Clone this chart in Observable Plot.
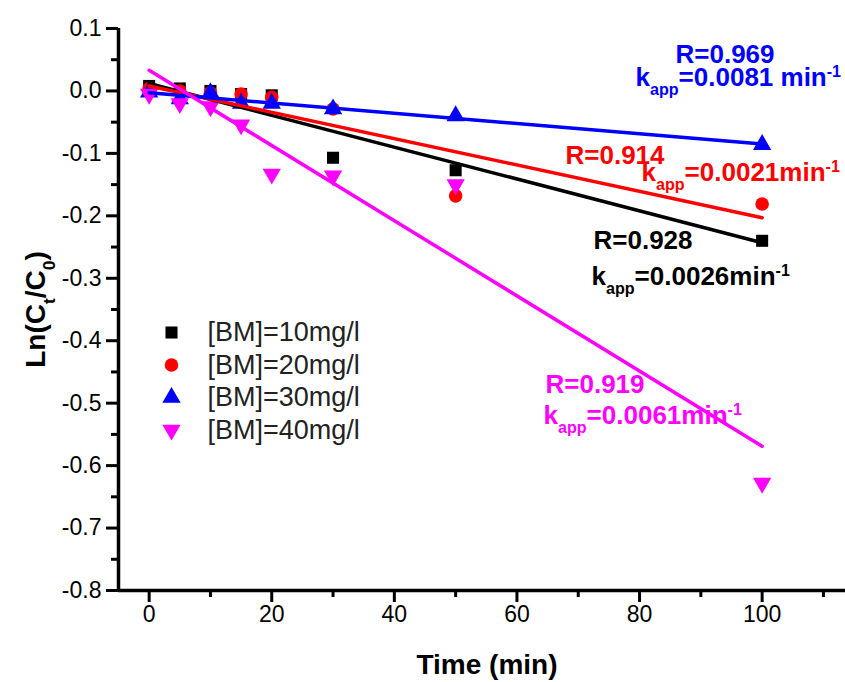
<!DOCTYPE html>
<html><head><meta charset="utf-8">
<script src="https://cdn.jsdelivr.net/npm/d3@7"></script>
<script src="https://cdn.jsdelivr.net/npm/@observablehq/plot@0.6"></script>
<style>
body{margin:0;background:#fff;}
#chart svg{display:block;}
</style></head>
<body><div id="chart"></div>
<script>
// ---- data ----
const time = [0, 5, 10, 15, 20, 30, 50, 100];
const seriesNames = ["[BM]=10mg/l", "[BM]=20mg/l", "[BM]=30mg/l", "[BM]=40mg/l"];
const bm10 = [0.008, 0.004, 0.000, -0.005, -0.007, -0.107, -0.127, -0.240];
const bm20 = [0.004, 0.000, -0.003, -0.005, -0.010, -0.029, -0.168, -0.181];
const bm30 = [-0.002, -0.013, -0.003, -0.020, -0.020, -0.029, -0.040, -0.086];
const bm40 = [-0.005, -0.020, -0.025, -0.054, -0.133, -0.136, -0.150, -0.628];
const fitTime = [0, 100];
const fitStart = [0.012, 0.008, -0.003, 0.033];
const fitEnd = [-0.243, -0.203, -0.085, -0.569];
const rLabels = ["R=0.928", "R=0.914", "R=0.969", "R=0.919"];
const kLabels = ["k_{app}=0.0026min^{-1}", "k_{app}=0.0021min^{-1}", "k_{app}=0.0081 min^{-1}", "k_{app}=0.0061min^{-1}"];
const xTicks = [0, 20, 40, 60, 80, 100];
const xMinor = [10, 30, 50, 70, 90, 110];
const yTicks = [0.1, 0, -0.1, -0.2, -0.3, -0.4, -0.5, -0.6, -0.7, -0.8];
const yMinor = [0.05, -0.05, -0.15, -0.25, -0.35, -0.45, -0.55, -0.65, -0.75];
const xLabel = "Time (min)";
const yLabel = "Ln(C_{t}/C_{0})";

// ---- styling / layout ----
const colors = ["#000000", "#ff0000", "#0000ff", "#ff00ff"];
const W = 845, H = 682, mL = 118, mR = 0, mT = 28, mB = 92;
const xDom = [-5, 113.6], yDom = [-0.8, 0.1];
const pxX = p => xDom[0] + (p - mL) / (W - mL - mR) * (xDom[1] - xDom[0]);
const pxY = p => yDom[1] - (p - mT) / (H - mT - mB) * (yDom[1] - yDom[0]);
// annotation anchors (pixels): R line start/baseline, k line start/baseline
const annLayout = [
  {rx: 593, ry: 248, kx: 591, ky: 284},
  {rx: 565, ry: 163, kx: 641, ky: 180},
  {rx: 675, ry: 62, kx: 635, ky: 85},
  {rx: 545, ry: 392, kx: 543, ky: 423}
];
const legendLayout = {sx: 171, tx: 207, y0: 332, step: 32.5};

const sqrt3 = Math.sqrt(3);
const triangleDown = {
  draw(context, size) {
    const y = -Math.sqrt(size / (sqrt3 * 3));
    context.moveTo(0, -y * 2);
    context.lineTo(-sqrt3 * y, y);
    context.lineTo(sqrt3 * y, y);
    context.closePath();
  }
};
const symbols = ["square", "circle", "triangle", triangleDown];
const seriesValues = [bm10, bm20, bm30, bm40];
const font = "'Liberation Sans', Arial, sans-serif";

const marks = [];
// axes lines
marks.push(Plot.ruleY([yDom[0]], {stroke: "black", strokeWidth: 3.5}));
marks.push(Plot.ruleX([xDom[0]], {y1: yDom[0], y2: yDom[1], stroke: "black", strokeWidth: 3.5}));
marks.push(Plot.axisX(xTicks, {tickSize: 12, tickPadding: 3, strokeWidth: 3, fontSize: 23, label: null, tickFormat: d => String(d)}));
marks.push(Plot.axisX(xMinor, {tickSize: 7, strokeWidth: 3, label: null, tickFormat: () => ""}));
marks.push(Plot.axisY(yTicks, {tickSize: 12, tickPadding: 5, strokeWidth: 3, fontSize: 23, label: null, tickFormat: d => d.toFixed(1)}));
marks.push(Plot.axisY(yMinor, {tickSize: 7, strokeWidth: 3, label: null, tickFormat: () => ""}));

// points
seriesValues.forEach((vals, i) => {
  const data = time.map((t, j) => ({t, v: vals[j]}));
  marks.push(Plot.dot(data, {x: "t", y: "v", symbol: symbols[i], r: 6.8, fill: colors[i], stroke: "none"}));
});
// fit lines
seriesValues.forEach((vals, i) => {
  const data = fitTime.map((t, j) => ({t, v: j === 0 ? fitStart[i] : fitEnd[i]}));
  marks.push(Plot.line(data, {x: "t", y: "v", stroke: colors[i], strokeWidth: 3.5}));
});
// annotations
seriesNames.forEach((_, i) => {
  const a = annLayout[i];
  marks.push(Plot.text([rLabels[i]], {x: pxX(a.rx), y: pxY(a.ry), text: d => d, fill: colors[i], fontSize: 26, fontWeight: "bold", textAnchor: "start", lineAnchor: "bottom"}));
  marks.push(Plot.text([kLabels[i]], {x: pxX(a.kx), y: pxY(a.ky), text: d => d, fill: colors[i], fontSize: 26, fontWeight: "bold", textAnchor: "start", lineAnchor: "bottom"}));
});
// legend
const legendData = seriesNames.map((name, i) => ({name, i, x: pxX(legendLayout.sx), tx: pxX(legendLayout.tx), y: pxY(legendLayout.y0 + i * legendLayout.step)}));
legendData.forEach(d => {
  marks.push(Plot.dot([d], {x: "x", y: "y", symbol: symbols[d.i], r: 6.8, fill: colors[d.i], stroke: "none"}));
});
marks.push(Plot.text(legendData, {x: "tx", y: "y", text: "name", fill: "#222", fontSize: 27, textAnchor: "start"}));
// axis titles
marks.push(Plot.text([xLabel], {frameAnchor: "bottom", dy: 83, dx: 5, text: d => d, fontSize: 28, fontWeight: "bold", lineAnchor: "bottom", textAnchor: "middle", fill: "black"}));
marks.push(Plot.text([yLabel], {frameAnchor: "left", dx: -74, rotate: -90, text: d => d, fontSize: 28, fontWeight: "bold", lineAnchor: "bottom", textAnchor: "middle", fill: "black"}));

const plot = Plot.plot({
  width: W, height: H,
  marginLeft: mL, marginRight: mR, marginTop: mT, marginBottom: mB,
  x: {domain: xDom, axis: null},
  y: {domain: yDom, axis: null},
  style: {fontFamily: font, background: "white", color: "black", overflow: "visible"},
  marks
});
document.getElementById("chart").appendChild(plot);

// rich text: _{sub} and ^{sup}
const ns = "http://www.w3.org/2000/svg";
plot.querySelectorAll("text").forEach(el => {
  const s = el.textContent;
  if (!/[_^]\{/.test(s)) return;
  const fs = parseFloat(getComputedStyle(el).fontSize) || 26;
  const parts = s.split(/(_\{[^}]*\}|\^\{[^}]*\})/);
  el.textContent = "";
  let off = 0;
  parts.forEach(p => {
    if (!p) return;
    let target = 0, txt = p, size = fs;
    if (p.startsWith("_{")) { target = 0.38 * fs; txt = p.slice(2, -1); size = fs * 0.62; }
    else if (p.startsWith("^{")) { target = -0.33 * fs; txt = p.slice(2, -1); size = fs * 0.62; }
    const ts = document.createElementNS(ns, "tspan");
    ts.setAttribute("dy", (target - off).toFixed(2));
    ts.setAttribute("font-size", size.toFixed(1));
    ts.textContent = txt;
    el.appendChild(ts);
    off = target;
  });
});
</script>
</body></html>
